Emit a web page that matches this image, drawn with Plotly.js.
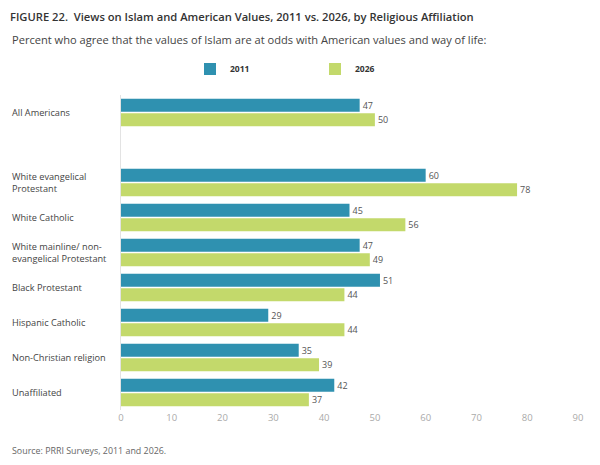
<!DOCTYPE html>
<html>
<head>
<meta charset="utf-8">
<script src="https://cdn.plot.ly/plotly-3.0.1.min.js"></script>
<style>html,body{margin:0;padding:0;background:#fff;}#chart{width:600px;height:465px;}</style>
</head>
<body>
<div id="chart"></div>
<script>
const categories = ["All Americans", " ", "White evangelical<br>Protestant", "White Catholic", "White mainline/ non-<br>evangelical Protestant", "Black Protestant", "Hispanic Catholic", "Non-Christian religion", "Unaffiliated"];
const values2011 = [47, null, 60, 45, 47, 51, 29, 35, 42];
const values2026 = [50, null, 78, 56, 49, 44, 44, 39, 37];
const seriesNames = ["2011", "2026"];
const xTicks = [0, 10, 20, 30, 40, 50, 60, 70, 80, 90];

const FONT = "Open Sans, Noto Sans, sans-serif";
const colors = ["#2f91b0", "#c3d96b"];

function trace(name, vals, color) {
  return {
    type: "bar", orientation: "h", name: name,
    y: categories, x: vals,
    marker: {color: color},
    text: vals.map(v => v == null ? "" : String(v)),
    textposition: "outside",
    textfont: {family: FONT, size: 9, color: "#555"},
    cliponaxis: false,
    hoverinfo: "none"
  };
}

const data = [trace(seriesNames[0], values2011, colors[0]), trace(seriesNames[1], values2026, colors[1])];

const annotations = categories.filter(c => c.trim() !== "").map(c => ({
  xref: "paper", yref: "y", x: (10 - 121) / 457, y: c,
  xanchor: "left", yanchor: "middle", align: "left", showarrow: false,
  text: c, font: {family: FONT, size: 9.2, color: "#444"}
}));
annotations.push({
  xref: "paper", yref: "paper", x: (10 - 121) / 457, y: 1 + (95 - 40) / 315,
  xanchor: "left", yanchor: "middle", showarrow: false, align: "left",
  text: "Percent who agree that the values of Islam are at odds with American values and way of life:",
  font: {family: FONT, size: 11.1, color: "#444"}
});
annotations.push({
  xref: "paper", yref: "paper", x: (10 - 121) / 457, y: -(450 - 410) / 315,
  xanchor: "left", yanchor: "middle", showarrow: false, align: "left",
  text: "Source: PRRI Surveys, 2011 and 2026.",
  font: {family: FONT, size: 8.9, color: "#666"}
});

const layout = {
  width: 600, height: 465,
  margin: {l: 121, r: 22, t: 95, b: 55},
  paper_bgcolor: "#fff", plot_bgcolor: "#fff",
  font: {family: FONT},
  title: {
    text: "FIGURE 22.\u00a0 Views on Islam and American Values, 2011 vs. 2026, by Religious Affiliation",
    x: 10 / 600, xanchor: "left", y: 1 - 17 / 465, yanchor: "middle",
    font: {family: FONT, size: 11.2, color: "#333", weight: 600}
  },
  barmode: "group", bargap: 0.17, bargroupgap: 0.1,
  showlegend: true,
  legend: {
    orientation: "h", x: (190 - 121) / 457, xanchor: "left", y: 1 + (95 - 69) / 315, yanchor: "middle",
    font: {family: FONT, size: 8.5, color: "#333", weight: "bold"},
    entrywidth: 80, entrywidthmode: "pixels", itemwidth: 30,
    traceorder: "normal", bgcolor: "rgba(0,0,0,0)"
  },
  xaxis: {
    range: [0, 90], tickvals: xTicks, ticktext: xTicks.map(String),
    showgrid: false, zeroline: false, showline: false, ticks: "",
    tickfont: {family: FONT, size: 9.5, color: "#aaa"}, fixedrange: true
  },
  yaxis: {
    type: "category", categoryorder: "array", categoryarray: categories,
    autorange: "reversed", showticklabels: false, ticks: "",
    showgrid: false, zeroline: false, showline: true, linecolor: "#e3e3e3", linewidth: 1,
    fixedrange: true
  },
  annotations: annotations
};

Plotly.newPlot("chart", data, layout, {displayModeBar: false, staticPlot: true});
</script>
</body>
</html>
